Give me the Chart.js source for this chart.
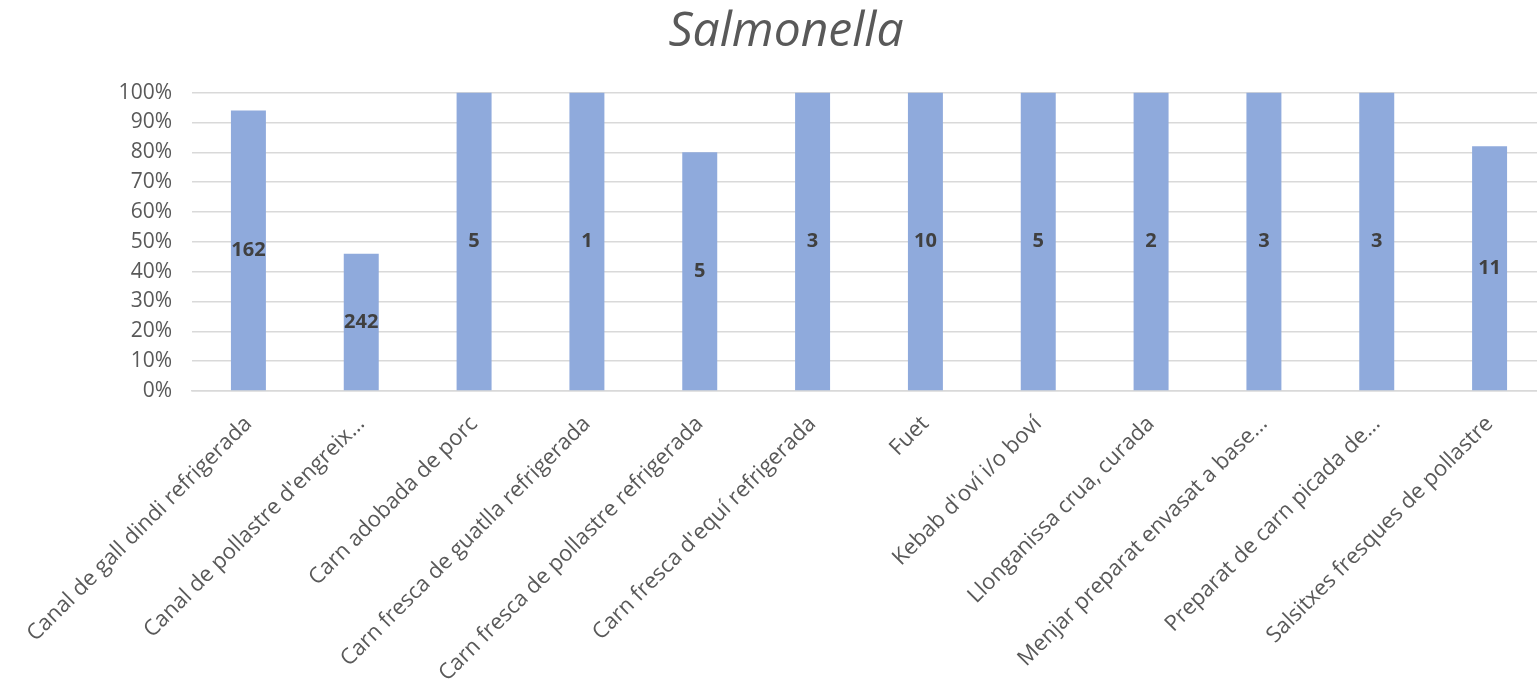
<!DOCTYPE html>
<html>
<head>
<meta charset="utf-8">
<title>Salmonella</title>
<script src="https://cdn.jsdelivr.net/npm/chart.js@4/dist/chart.umd.min.js"></script>
<style>
    html, body { margin: 0; padding: 0; background: #fff; overflow: hidden; }
    .chart-box { position: absolute; left: 0; top: 0; width: 1546px; height: 694px; }
</style>
</head>
<body>
<div class="chart-box"><canvas id="salmonellaChart"></canvas></div>
<script>
const categories = [
    'Canal de gall dindi refrigerada',
    "Canal de pollastre d'engreix...",
    'Carn adobada de porc',
    'Carn fresca de guatlla refrigerada',
    'Carn fresca de pollastre refrigerada',
    "Carn fresca d'equí refrigerada",
    'Fuet',
    "Kebab d'oví i/o boví",
    'Llonganissa crua, curada',
    'Menjar preparat envasat a base...',
    'Preparat de carn picada de...',
    'Salsitxes fresques de pollastre',
];
const percentages = [94, 46, 100, 100, 80, 100, 100, 100, 100, 100, 100, 82];
const sampleCounts = [162, 242, 5, 1, 5, 3, 10, 5, 2, 3, 3, 11];

const textColor = '#595959';

// writes the sample count in the middle of each bar
const countLabels = {
    id: 'countLabels',
    afterDatasetsDraw(chart) {
        const ctx = chart.ctx;
        const meta = chart.getDatasetMeta(0);
        ctx.save();
        ctx.font = 'bold 20px "Open Sans"';
        ctx.fillStyle = '#404040';
        ctx.textAlign = 'center';
        ctx.textBaseline = 'middle';
        meta.data.forEach((bar, i) => {
            ctx.fillText(String(sampleCounts[i]), bar.x, (bar.y + bar.base) / 2);
        });
        ctx.restore();
    },
};

const config = {
    type: 'bar',
    data: {
        labels: categories,
        datasets: [
            {
                data: percentages,
                backgroundColor: '#8faadc',
                borderWidth: 0,
                barPercentage: 0.31,
                categoryPercentage: 1,
            },
        ],
    },
    options: {
        responsive: true,
        maintainAspectRatio: false,
        animation: false,
        layout: {
            padding: { left: 26, right: 0, top: 4, bottom: 0 },
        },
        plugins: {
            legend: { display: false },
            tooltip: { enabled: false },
            title: {
                display: true,
                text: 'Salmonella',
                color: textColor,
                font: { family: '"Open Sans"', size: 48, style: 'italic', weight: 'normal' },
                padding: { top: 0, bottom: 31 },
            },
        },
        scales: {
            x: {
                grid: { display: false },
                border: { color: '#d9d9d9', width: 1.5 },
                ticks: {
                    color: textColor,
                    font: { family: '"Open Sans"', size: 22 },
                    maxRotation: 45,
                    minRotation: 45,
                    autoSkip: false,
                    padding: 12,
                },
                afterFit(scale) {
                    scale.height = 303;
                },
            },
            y: {
                min: 0,
                max: 100,
                grid: { color: '#d9d9d9', lineWidth: 1.5, drawTicks: false },
                border: { display: false },
                ticks: {
                    stepSize: 10,
                    color: textColor,
                    font: { family: '"Open Sans"', size: 21 },
                    padding: 20,
                    callback: (value) => value + '%',
                },
                afterFit(scale) {
                    scale.width = 166;
                },
            },
        },
    },
    plugins: [countLabels],
};

new Chart(document.getElementById('salmonellaChart'), config);
</script>
</body>
</html>
